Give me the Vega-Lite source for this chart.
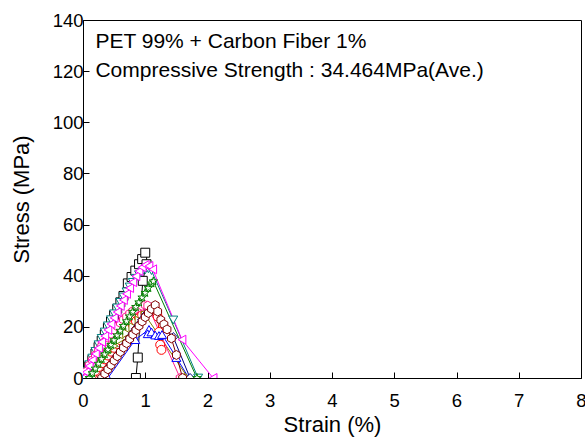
{
  "$schema": "https://vega.github.io/schema/vega-lite/v6.json",
  "autosize": {"type": "none"},
  "width": 498,
  "height": 358,
  "padding": {"left": 83, "top": 20, "right": 4, "bottom": 65},
  "background": "white",
  "config": {
    "view": {"stroke": "black", "strokeWidth": 1},
    "font": "Liberation Sans",
    "axis": {
      "grid": false,
      "domainColor": "black",
      "tickColor": "black",
      "labelColor": "black",
      "titleColor": "black",
      "labelFont": "Liberation Sans",
      "titleFont": "Liberation Sans",
      "labelFontSize": 18.5,
      "titleFontSize": 22,
      "titleFontWeight": "normal",
      "labelOverlap": false,
      "labelFlush": false
    }
  },
  "datasets": {
    "curves": [
      {"s":"S1","i":0,"x":0,"y":0},{"s":"S1","i":1,"x":0.05,"y":2.2},{"s":"S1","i":2,"x":0.1,"y":4.6},{"s":"S1","i":3,"x":0.15,"y":7.1},{"s":"S1","i":4,"x":0.2,"y":9.6},{"s":"S1","i":5,"x":0.25,"y":12.1},{"s":"S1","i":6,"x":0.3,"y":14.6},{"s":"S1","i":7,"x":0.35,"y":17.1},{"s":"S1","i":8,"x":0.4,"y":19.6},{"s":"S1","i":9,"x":0.45,"y":22.1},{"s":"S1","i":10,"x":0.5,"y":24.6},{"s":"S1","i":11,"x":0.55,"y":27.1},{"s":"S1","i":12,"x":0.6,"y":29.6},{"s":"S1","i":13,"x":0.65,"y":32.1},{"s":"S1","i":14,"x":0.72,"y":37},{"s":"S1","i":15,"x":0.78,"y":39.5},{"s":"S1","i":16,"x":0.84,"y":42},{"s":"S1","i":17,"x":0.9,"y":44.5},{"s":"S1","i":18,"x":0.95,"y":46.5},{"s":"S1","i":19,"x":1.0,"y":49},{"s":"S1","i":20,"x":1.02,"y":44.5},{"s":"S1","i":21,"x":0.96,"y":38},{"s":"S1","i":22,"x":0.92,"y":24},{"s":"S1","i":23,"x":0.88,"y":8},{"s":"S1","i":24,"x":0.85,"y":0},

      {"s":"S2","i":0,"x":0.1,"y":0},{"s":"S2","i":1,"x":0.15,"y":1.3},{"s":"S2","i":2,"x":0.2,"y":2.8},{"s":"S2","i":3,"x":0.25,"y":4.3},{"s":"S2","i":4,"x":0.3,"y":5.8},{"s":"S2","i":5,"x":0.35,"y":7.3},{"s":"S2","i":6,"x":0.4,"y":8.8},{"s":"S2","i":7,"x":0.45,"y":10.3},{"s":"S2","i":8,"x":0.5,"y":11.8},{"s":"S2","i":9,"x":0.55,"y":13.3},{"s":"S2","i":10,"x":0.6,"y":14.8},{"s":"S2","i":11,"x":0.65,"y":16.3},{"s":"S2","i":12,"x":0.7,"y":17.8},{"s":"S2","i":13,"x":0.75,"y":19.3},{"s":"S2","i":14,"x":0.8,"y":20.8},{"s":"S2","i":15,"x":0.85,"y":22.2},{"s":"S2","i":16,"x":0.9,"y":23.5},{"s":"S2","i":17,"x":0.95,"y":24.6},{"s":"S2","i":18,"x":1.0,"y":25.5},{"s":"S2","i":19,"x":1.05,"y":26.3},{"s":"S2","i":20,"x":1.1,"y":26.8},{"s":"S2","i":21,"x":1.15,"y":27},{"s":"S2","i":22,"x":1.2,"y":24},{"s":"S2","i":23,"x":1.22,"y":18},{"s":"S2","i":24,"x":1.24,"y":13},{"s":"S2","i":25,"x":1.26,"y":11},

      {"s":"S3","i":0,"x":0.4,"y":0},{"s":"S3","i":1,"x":0.84,"y":15},{"s":"S3","i":2,"x":1.06,"y":19},{"s":"S3","i":3,"x":1.04,"y":17.3},{"s":"S3","i":4,"x":1.1,"y":18},{"s":"S3","i":5,"x":1.16,"y":16.8},{"s":"S3","i":6,"x":1.22,"y":16.6},{"s":"S3","i":7,"x":1.27,"y":17},{"s":"S3","i":8,"x":1.5,"y":8},{"s":"S3","i":9,"x":1.7,"y":0},

      {"s":"S4","i":0,"x":0,"y":0},{"s":"S4","i":1,"x":0.05,"y":2.6},{"s":"S4","i":2,"x":0.1,"y":5.2},{"s":"S4","i":3,"x":0.15,"y":7.8},{"s":"S4","i":4,"x":0.2,"y":10.4},{"s":"S4","i":5,"x":0.25,"y":13},{"s":"S4","i":6,"x":0.3,"y":15.5},{"s":"S4","i":7,"x":0.35,"y":18},{"s":"S4","i":8,"x":0.4,"y":20.4},{"s":"S4","i":9,"x":0.45,"y":22.8},{"s":"S4","i":10,"x":0.5,"y":25.1},{"s":"S4","i":11,"x":0.55,"y":27.4},{"s":"S4","i":12,"x":0.6,"y":29.6},{"s":"S4","i":13,"x":0.65,"y":31.7},{"s":"S4","i":14,"x":0.7,"y":33.7},{"s":"S4","i":15,"x":0.75,"y":35.6},{"s":"S4","i":16,"x":0.8,"y":37.4},{"s":"S4","i":17,"x":0.85,"y":39},{"s":"S4","i":18,"x":0.9,"y":40.4},{"s":"S4","i":19,"x":0.95,"y":41.5},{"s":"S4","i":20,"x":1.0,"y":42.3},{"s":"S4","i":21,"x":1.05,"y":42.7},{"s":"S4","i":22,"x":1.1,"y":42},{"s":"S4","i":23,"x":1.45,"y":22.7},{"s":"S4","i":24,"x":1.85,"y":0},

      {"s":"S5","i":0,"x":0,"y":0},{"s":"S5","i":1,"x":0.1,"y":2.5},{"s":"S5","i":2,"x":0.2,"y":5},{"s":"S5","i":3,"x":0.3,"y":7.5},{"s":"S5","i":4,"x":0.4,"y":10},{"s":"S5","i":5,"x":0.5,"y":12.5},{"s":"S5","i":6,"x":0.6,"y":15},{"s":"S5","i":7,"x":0.7,"y":17.5},{"s":"S5","i":8,"x":0.8,"y":20},{"s":"S5","i":9,"x":0.9,"y":22.5},{"s":"S5","i":10,"x":1.0,"y":24.5},{"s":"S5","i":11,"x":1.69,"y":0},

      {"s":"S6","i":0,"x":0.3,"y":0},{"s":"S6","i":1,"x":0.35,"y":1.8},{"s":"S6","i":2,"x":0.4,"y":3.5},{"s":"S6","i":3,"x":0.45,"y":5.3},{"s":"S6","i":4,"x":0.5,"y":7},{"s":"S6","i":5,"x":0.55,"y":8.8},{"s":"S6","i":6,"x":0.6,"y":10.5},{"s":"S6","i":7,"x":0.65,"y":12.3},{"s":"S6","i":8,"x":0.7,"y":14},{"s":"S6","i":9,"x":0.75,"y":15.8},{"s":"S6","i":10,"x":0.8,"y":17.5},{"s":"S6","i":11,"x":0.85,"y":19.3},{"s":"S6","i":12,"x":0.9,"y":21},{"s":"S6","i":13,"x":0.95,"y":22.8},{"s":"S6","i":14,"x":1.0,"y":24.5},{"s":"S6","i":15,"x":1.05,"y":26.5},{"s":"S6","i":16,"x":1.45,"y":16},{"s":"S6","i":17,"x":1.72,"y":0},

      {"s":"S7","i":0,"x":0,"y":0},{"s":"S7","i":1,"x":0.05,"y":2.5},{"s":"S7","i":2,"x":0.1,"y":5},{"s":"S7","i":3,"x":0.15,"y":7},{"s":"S7","i":4,"x":0.2,"y":9},{"s":"S7","i":5,"x":0.25,"y":10.8},{"s":"S7","i":6,"x":0.3,"y":12.5},{"s":"S7","i":7,"x":0.35,"y":14.2},{"s":"S7","i":8,"x":0.4,"y":15.8},{"s":"S7","i":9,"x":0.45,"y":17.3},{"s":"S7","i":10,"x":0.5,"y":18.8},{"s":"S7","i":11,"x":0.55,"y":20.2},{"s":"S7","i":12,"x":0.6,"y":21.5},{"s":"S7","i":13,"x":0.65,"y":22.8},{"s":"S7","i":14,"x":0.7,"y":24},{"s":"S7","i":15,"x":0.75,"y":25.2},{"s":"S7","i":16,"x":0.8,"y":26.2},{"s":"S7","i":17,"x":0.85,"y":27},{"s":"S7","i":18,"x":0.9,"y":27.7},{"s":"S7","i":19,"x":0.95,"y":28.2},{"s":"S7","i":20,"x":1.0,"y":28.5},{"s":"S7","i":21,"x":1.04,"y":28.3},{"s":"S7","i":22,"x":1.56,"y":0},

      {"s":"S8","i":0,"x":0,"y":0},{"s":"S8","i":1,"x":0.05,"y":2.3},{"s":"S8","i":2,"x":0.1,"y":4.7},{"s":"S8","i":3,"x":0.15,"y":7},{"s":"S8","i":4,"x":0.2,"y":9.4},{"s":"S8","i":5,"x":0.25,"y":11.7},{"s":"S8","i":6,"x":0.3,"y":14.1},{"s":"S8","i":7,"x":0.35,"y":16.4},{"s":"S8","i":8,"x":0.4,"y":18.8},{"s":"S8","i":9,"x":0.45,"y":21.1},{"s":"S8","i":10,"x":0.5,"y":23.5},{"s":"S8","i":11,"x":0.55,"y":25.8},{"s":"S8","i":12,"x":0.6,"y":28.2},{"s":"S8","i":13,"x":0.65,"y":30.5},{"s":"S8","i":14,"x":0.7,"y":32.9},{"s":"S8","i":15,"x":0.75,"y":35.2},{"s":"S8","i":16,"x":0.8,"y":37.5},{"s":"S8","i":17,"x":0.85,"y":39.8},{"s":"S8","i":18,"x":0.9,"y":41.8},{"s":"S8","i":19,"x":0.95,"y":43.3},{"s":"S8","i":20,"x":1.0,"y":44.2},{"s":"S8","i":21,"x":1.06,"y":43.8},{"s":"S8","i":22,"x":1.12,"y":42.5},{"s":"S8","i":23,"x":1.59,"y":15},{"s":"S8","i":24,"x":2.09,"y":0},

      {"s":"S9","i":0,"x":0.1,"y":0},{"s":"S9","i":1,"x":0.15,"y":1.9},{"s":"S9","i":2,"x":0.2,"y":3.7},{"s":"S9","i":3,"x":0.25,"y":5.6},{"s":"S9","i":4,"x":0.3,"y":7.4},{"s":"S9","i":5,"x":0.35,"y":9.3},{"s":"S9","i":6,"x":0.4,"y":11.1},{"s":"S9","i":7,"x":0.45,"y":13},{"s":"S9","i":8,"x":0.5,"y":14.8},{"s":"S9","i":9,"x":0.55,"y":16.7},{"s":"S9","i":10,"x":0.6,"y":18.5},{"s":"S9","i":11,"x":0.65,"y":20.4},{"s":"S9","i":12,"x":0.7,"y":22.2},{"s":"S9","i":13,"x":0.75,"y":24.1},{"s":"S9","i":14,"x":0.8,"y":25.9},{"s":"S9","i":15,"x":0.85,"y":27.8},{"s":"S9","i":16,"x":0.9,"y":29.6},{"s":"S9","i":17,"x":0.95,"y":31.5},{"s":"S9","i":18,"x":1.0,"y":33.3},{"s":"S9","i":19,"x":1.05,"y":35.2},{"s":"S9","i":20,"x":1.1,"y":37},{"s":"S9","i":21,"x":1.13,"y":37.8},{"s":"S9","i":22,"x":1.83,"y":0},

      {"s":"S10","i":0,"x":0.3,"y":0},{"s":"S10","i":1,"x":0.35,"y":1.7},{"s":"S10","i":2,"x":0.4,"y":3.4},{"s":"S10","i":3,"x":0.45,"y":5.1},{"s":"S10","i":4,"x":0.5,"y":6.8},{"s":"S10","i":5,"x":0.55,"y":8.5},{"s":"S10","i":6,"x":0.6,"y":10.2},{"s":"S10","i":7,"x":0.65,"y":11.9},{"s":"S10","i":8,"x":0.7,"y":13.6},{"s":"S10","i":9,"x":0.75,"y":15.3},{"s":"S10","i":10,"x":0.8,"y":17},{"s":"S10","i":11,"x":0.85,"y":18.7},{"s":"S10","i":12,"x":0.9,"y":20.4},{"s":"S10","i":13,"x":0.95,"y":22.1},{"s":"S10","i":14,"x":1.0,"y":23.8},{"s":"S10","i":15,"x":1.05,"y":25.4},{"s":"S10","i":16,"x":1.1,"y":27},{"s":"S10","i":17,"x":1.16,"y":28.5},{"s":"S10","i":18,"x":1.2,"y":26},{"s":"S10","i":19,"x":1.25,"y":22.7},{"s":"S10","i":20,"x":1.3,"y":21},{"s":"S10","i":21,"x":1.35,"y":19},{"s":"S10","i":22,"x":1.42,"y":15.5},{"s":"S10","i":23,"x":1.5,"y":9},{"s":"S10","i":24,"x":1.6,"y":0}
    ],
    "notes": [
      {"t": "PET 99% + Carbon Fiber 1%", "nx": 0.2, "ny": 131.5},
      {"t": "Compressive Strength : 34.464MPa(Ave.)", "nx": 0.2, "ny": 120}
    ]
  },
  "layer": [
    {
      "data": {"name": "curves"},
      "mark": {"type": "line", "strokeWidth": 1, "clip": true},
      "encoding": {
        "x": {
          "field": "x", "type": "quantitative",
          "scale": {"domain": [0, 8], "nice": false, "zero": false},
          "axis": {
            "title": "Strain (%)",
            "values": [0,0.5,1,1.5,2,2.5,3,3.5,4,4.5,5,5.5,6,6.5,7,7.5,8],
            "labelExpr": "datum.value % 1 === 0 ? format(datum.value, 'd') : ''",
            "tickSize": {"condition": {"test": "datum.value % 1 === 0", "value": -6}, "value": -3},
            "labelPadding": 19,
            "titlePadding": 5
          }
        },
        "y": {
          "field": "y", "type": "quantitative",
          "scale": {"domain": [0, 140], "nice": false, "zero": false},
          "axis": {
            "title": "Stress (MPa)",
            "values": [0,10,20,30,40,50,60,70,80,90,100,110,120,130,140],
            "labelExpr": "datum.value % 20 === 0 ? format(datum.value, 'd') : ''",
            "tickSize": {"condition": {"test": "datum.value % 20 === 0", "value": -6}, "value": -3},
            "labelPadding": 6,
            "titlePadding": 19
          }
        },
        "stroke": {
          "field": "s", "type": "nominal", "legend": null,
          "scale": {
            "domain": ["S1","S2","S3","S4","S5","S6","S7","S8","S9","S10"],
            "range": ["#000000","#ff0000","#0000ff","#008080","#808000","#000080","#ff1a8c","#ff00ff","#008000","#800000"]
          }
        },
        "order": {"field": "i", "type": "quantitative"}
      }
    },
    {
      "data": {"name": "curves"},
      "mark": {"type": "point", "filled": false, "opacity": 1, "strokeWidth": 1, "size": 80, "clip": true},
      "encoding": {
        "x": {"field": "x", "type": "quantitative"},
        "y": {"field": "y", "type": "quantitative"},
        "stroke": {"field": "s", "type": "nominal", "legend": null},
        "fill": {"value": "white"},
        "shape": {
          "field": "s", "type": "nominal", "legend": null,
          "scale": {
            "domain": ["S1","S2","S3","S4","S5","S6","S7","S8","S9","S10"],
            "range": ["square","circle","triangle-up","triangle-down","triangle-right","diamond","M0,-1L0.866,-0.5L0.866,0.5L0,1L-0.866,0.5L-0.866,-0.5Z","triangle-left","M0,-1L0.224,-0.309L0.951,-0.309L0.363,0.118L0.588,0.809L0,0.382L-0.588,0.809L-0.363,0.118L-0.951,-0.309L-0.224,-0.309Z","M0,-1L0.866,-0.5L0.866,0.5L0,1L-0.866,0.5L-0.866,-0.5Z"]
          }
        }
      }
    },
    {
      "data": {"name": "notes"},
      "mark": {"type": "text", "align": "left", "baseline": "middle", "fontSize": 21, "font": "Liberation Sans", "fill": "black"},
      "encoding": {
        "x": {"field": "nx", "type": "quantitative"},
        "y": {"field": "ny", "type": "quantitative"},
        "text": {"field": "t"}
      }
    }
  ]
}
